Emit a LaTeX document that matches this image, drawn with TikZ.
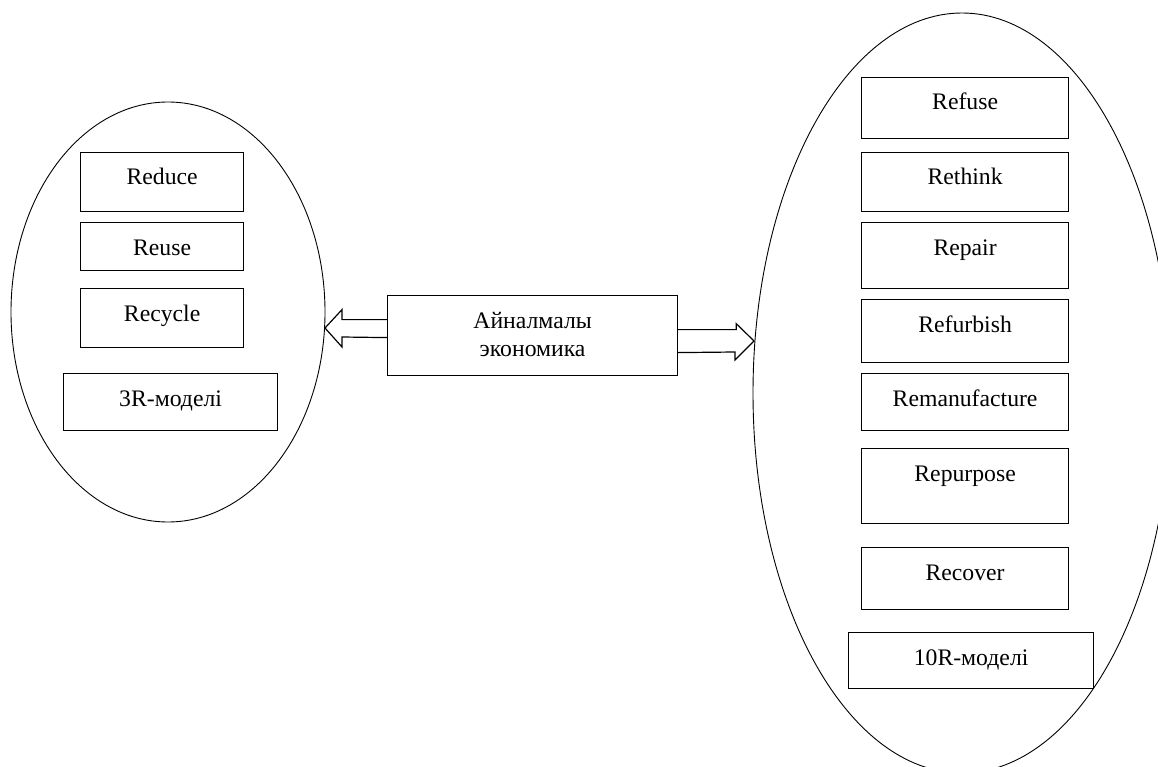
\documentclass[tikz,border=0pt]{standalone}
\usepackage{fontspec}
\setmainfont{Liberation Serif}
\usetikzlibrary{shapes.geometric,calc}
\tikzset{
  rbox/.style={draw,line width=1.2pt,inner sep=0pt},
  rtext/.style={anchor=base,inner sep=0pt,font=\fontsize{23.7}{28}\selectfont},
  oval/.style={draw,ellipse,line width=0.9pt,inner sep=0pt},
  fatarrow/.style={draw,line width=1.2pt,line join=miter}
}
\begin{document}
\begin{tikzpicture}[x=1pt,y=-1pt]
\useasboundingbox (0,0) rectangle (1158,767);
\clip (0,0) rectangle (1158,767);

\node[oval,minimum width=314pt,minimum height=420pt] (oval3) at (168,312) {};
\node[oval,minimum width=418pt,minimum height=760pt] (oval10) at (962,393) {};

% 3R
\foreach \nm/\lbl/\ya/\yb in {reduce/Reduce/152/211,reuse/Reuse/222/270,recycle/Recycle/288/347}{
  \node[rbox,anchor=north west,minimum width=163pt,minimum height={\yb-\ya}] (\nm) at (80,\ya) {};
  \node[rtext] (\nm-t) at ($(\nm.north)+(0,33)$) {\lbl};
}
\node[rbox,anchor=north west,minimum width=214pt,minimum height=57pt] (m3r) at (63,373) {};
\node[rtext] (m3r-t) at ($(m3r.north)+(0,33)$) {3R-моделі};

% 10R
\foreach \nm/\lbl/\ya/\yb in {refuse/Refuse/77/138,rethink/Rethink/152/211,repair/Repair/222/288,
    refurbish/Refurbish/299/362,remanufacture/Remanufacture/373/430,
    repurpose/Repurpose/448/523,recover/Recover/547/609}{
  \node[rbox,anchor=north west,minimum width=207pt,minimum height={\yb-\ya}] (\nm) at (861,\ya) {};
  \node[rtext] (\nm-t) at ($(\nm.north)+(0,33)$) {\lbl};
}
\node[rbox,anchor=north west,minimum width=245pt,minimum height=56pt] (m10r) at (848,632) {};
\node[rtext] (m10r-t) at ($(m10r.north)+(0,33)$) {10R-моделі};

% centre
\node[rbox,anchor=north west,minimum width=290pt,minimum height=80pt] (econ) at (387,295) {};
\node[rtext] (econ-t1) at ($(econ.north)+(0,33)$) {Айналмалы};
\node[rtext] (econ-t2) at ($(econ.north)+(0,61)$) {экономика};

\coordinate (tipL) at (325,328);
\coordinate (tipR) at (754,341);
\draw[fatarrow] ($(econ.west)+(0,-16)$) -- ++(-45,0) -- ++(0,-10) -- (tipL)
  -- ($(tipL)+(17,19)$) -- ++(0,-10) -- ($(econ.west)+(0,2)$);
\draw[fatarrow] ($(econ.east)+(0,-6)$) -- ++(58,0) -- ++(0,-6) -- (tipR)
  -- ($(tipR)+(-19,19)$) -- ++(0,-8) -- ($(econ.east)+(0,17)$);
\end{tikzpicture}
\end{document}
